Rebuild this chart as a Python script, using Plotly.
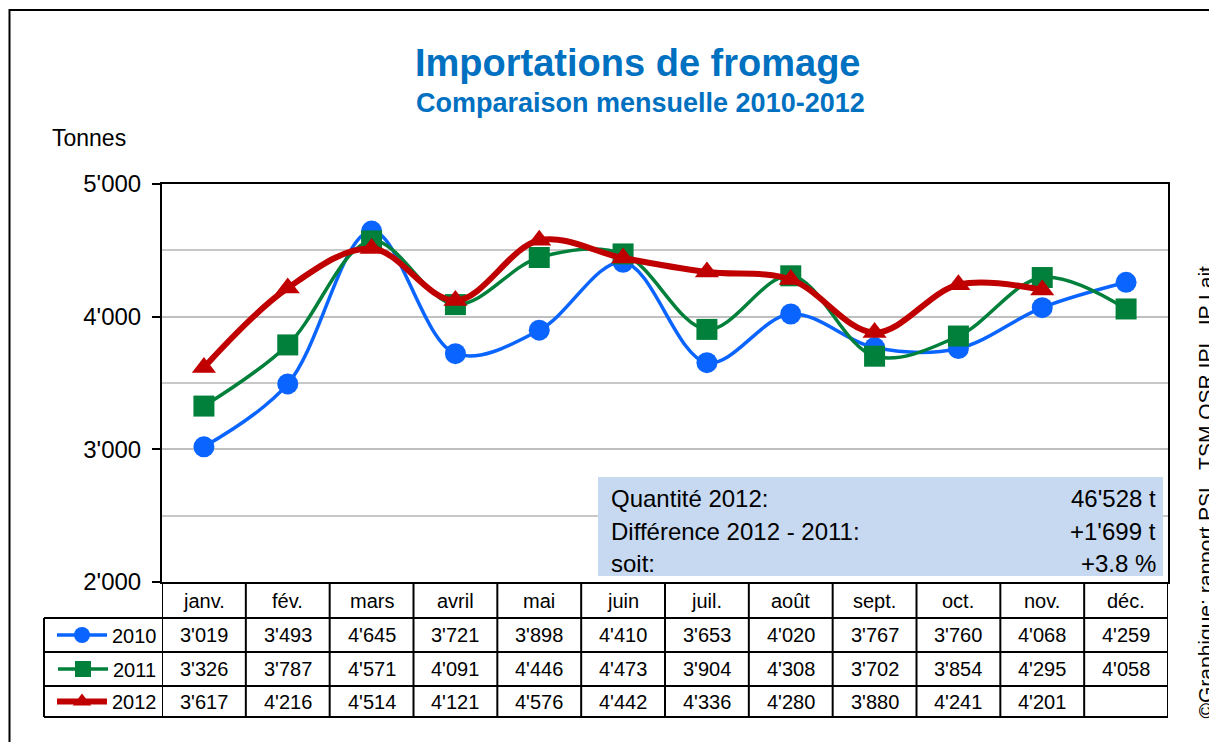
import plotly.graph_objects as go

months = ["janv.", "fév.", "mars", "avril", "mai", "juin", "juil.", "août", "sept.", "oct.", "nov.", "déc."]
v2010 = [3019, 3493, 4645, 3721, 3898, 4410, 3653, 4020, 3767, 3760, 4068, 4259]
v2011 = [3326, 3787, 4571, 4091, 4446, 4473, 3904, 4308, 3702, 3854, 4295, 4058]
v2012 = [3617, 4216, 4514, 4121, 4576, 4442, 4336, 4280, 3880, 4241, 4201, None]
years = ["2010", "2011", "2012"]
ytick_vals = [2000, 3000, 4000, 5000]
ytick_text = ["2'000", "3'000", "4'000", "5'000"]
info_labels = ["Quantité 2012:", "Différence 2012 - 2011:", "soit:"]
info_values = ["46'528 t", "+1'699 t", "+3.8 %"]
credit = "©Graphique: rapport PSL, TSM OSR IPL, IP Lait"

OFF = 8  # page body margin
W, H = 1217 - OFF, 742 - OFF
# plot area in reference (screen) pixels
L, R, T, B = 162, 1168, 184, 582
FONT = "Liberation Sans, Arial, sans-serif"


def px(x):
    return (x - L) / (R - L)


def py(y):
    return (B - y) / (B - T)


def fmt(v):
    return "" if v is None else f"{v:,}".replace(",", "'")


colors = ["#0A64FF", "#00803A", "#C00000"]
symbols = ["circle", "square", "triangle-up"]
widths = [3.5, 3.5, 6]
series = [v2010, v2011, v2012]

fig = go.Figure()
for i, (yr, vals) in enumerate(zip(years, series)):
    fig.add_trace(go.Scatter(
        x=months, y=vals, name=yr, mode="lines+markers",
        line=dict(color=colors[i], width=widths[i], shape="spline", smoothing=1.0),
        marker=dict(symbol=symbols[i], size=21, color=colors[i]),
        cliponaxis=False,
        legend=["legend", "legend2", "legend3"][i],
    ))

row_tops = [584, 618, 652, 686, 717]
row_centers = [(row_tops[k] + row_tops[k + 1]) / 2 for k in range(4)]

shapes = []
annotations = []
lw = 2
for y in row_tops[1:]:
    shapes.append(dict(type="line", xref="paper", yref="paper", x0=px(44), x1=1, y0=py(y), y1=py(y),
                       line=dict(color="black", width=lw)))
for k in range(13):
    shapes.append(dict(type="line", xref="x", yref="paper", x0=k - 0.5, x1=k - 0.5, y0=0, y1=py(row_tops[-1]),
                       line=dict(color="black", width=lw)))
shapes.append(dict(type="line", xref="paper", yref="paper", x0=px(44), x1=px(44), y0=py(row_tops[1]),
                   y1=py(row_tops[-1]), line=dict(color="black", width=lw)))
# info box
shapes.append(dict(type="rect", xref="paper", yref="paper", x0=px(598), x1=px(1163), y0=py(576), y1=py(477),
                   fillcolor="#C6D9F1", line=dict(width=0), layer="above"))
# outer frame
shapes.append(dict(type="rect", xref="paper", yref="paper", x0=px(9.5), x1=px(1240), y0=py(760), y1=py(10),
                   line=dict(color="black", width=2), fillcolor="rgba(0,0,0,0)"))

for r, vals in enumerate(series):
    for m, v in zip(months, vals):
        annotations.append(dict(x=m, y=py(row_centers[r + 1]), xref="x", yref="paper", text=fmt(v),
                                xanchor="center", yanchor="middle",
                                showarrow=False, font=dict(size=20, color="black", family=FONT)))
for m in months:
    annotations.append(dict(x=m, y=py(row_centers[0]), xref="x", yref="paper", text=m,
                            xanchor="center", yanchor="middle",
                            showarrow=False, font=dict(size=20, color="black", family=FONT)))

info_y = [498, 531, 563]
for lab, val, yy in zip(info_labels, info_values, info_y):
    annotations.append(dict(x=px(609), y=py(yy), xref="paper", yref="paper", text=lab, xanchor="left",
                            yanchor="middle",
                            showarrow=False, font=dict(size=24, color="black", family=FONT)))
    annotations.append(dict(x=px(1158), y=py(yy), xref="paper", yref="paper", text=val, xanchor="right",
                            yanchor="middle",
                            showarrow=False, font=dict(size=24, color="black", family=FONT)))

annotations.append(dict(x=px(638), y=py(63), xref="paper", yref="paper", text="<b>Importations de fromage</b>",
                        xanchor="center", yanchor="middle",
                        showarrow=False, font=dict(size=38, color="#0070C0", family=FONT)))
annotations.append(dict(x=px(640), y=py(103), xref="paper", yref="paper", text="<b>Comparaison mensuelle 2010-2012</b>",
                        xanchor="center", yanchor="middle",
                        showarrow=False, font=dict(size=27, color="#0070C0", family=FONT)))
annotations.append(dict(x=px(50), y=py(138), xref="paper", yref="paper", text="Tonnes", xanchor="left",
                        yanchor="middle",
                        showarrow=False, font=dict(size=23, color="black", family=FONT)))
annotations.append(dict(x=px(1205), y=py(721), xref="paper", yref="paper",
                        text=credit, textangle=-90,
                        xanchor="center", yanchor="bottom",
                        showarrow=False, font=dict(size=21, color="black", family=FONT)))

legs = {}
for k, name in enumerate(["legend", "legend2", "legend3"]):
    legs[name] = dict(x=0, xanchor="right", y=py(row_centers[k + 1]), yanchor="middle",
                      bgcolor="rgba(0,0,0,0)", borderwidth=0,
                      font=dict(size=20, color="black", family=FONT), itemwidth=50)

fig.update_layout(
    width=W, height=H,
    margin=dict(l=L - OFF, r=W - (R - OFF), t=T - OFF, b=H - (B - OFF), pad=0),
    paper_bgcolor="white", plot_bgcolor="white",
    font=dict(family=FONT, size=20, color="black"),
    showlegend=True,
    xaxis=dict(type="category", categoryorder="array", categoryarray=months, range=[-0.5, 11.5],
               showgrid=False, showline=True, linecolor="black", linewidth=2, mirror=True,
               ticks="", showticklabels=False, fixedrange=True),
    yaxis=dict(range=[2000, 5000], tickvals=ytick_vals, ticktext=ytick_text,
               showgrid=True, gridcolor="#BFBFBF", gridwidth=2,
               minor=dict(dtick=500, showgrid=True, gridcolor="#C8C8C8", gridwidth=2),
               showline=True, linecolor="black", linewidth=2, mirror=True,
               ticks="outside", ticklen=8, tickcolor="black", tickwidth=2, ticklabelstandoff=6,
               tickfont=dict(size=24, color="black", family=FONT), zeroline=False, fixedrange=True),
    shapes=shapes, annotations=annotations,
    **legs,
)

fig.write_html("out.html")
